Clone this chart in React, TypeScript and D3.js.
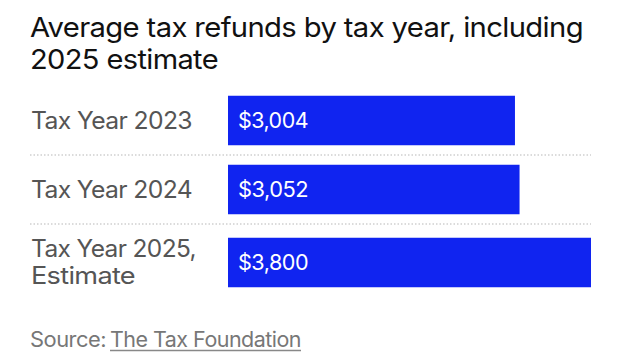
import React from "react";
import * as d3 from "d3";

const titleLines = ["Average tax refunds by tax year, including", "2025 estimate"];
const categories = ["Tax Year 2023", "Tax Year 2024", "Tax Year 2025, Estimate"];
const labelLines = [["Tax Year 2023"], ["Tax Year 2024"], ["Tax Year 2025,", "Estimate"]];
const values = [3004, 3052, 3800];
const sourcePrefix = "Source: ";
const sourceName = "The Tax Foundation";

const W = 620;
const H = 360;
const FONT = "Inter, 'Noto Sans', Roboto, sans-serif";

export default function App() {
  const x = d3.scaleLinear().domain([0, 3800]).range([228, 591]);
  const fmt = d3.format("$,.0f");

  const rowHeights = labelLines.map((l) => (l.length > 1 ? 77 : 69));
  const tops: number[] = [];
  let acc = 86;
  rowHeights.forEach((h) => {
    tops.push(acc);
    acc += h;
  });
  const barH = 49.5;

  const titleWidths = [553, 188];
  const labelWidths: Record<string, number> = {
    "Tax Year 2023": 161,
    "Tax Year 2024": 161,
    "Tax Year 2025,": 165,
    Estimate: 104,
  };

  return (
    <svg
      width={W}
      height={H}
      style={{ position: "absolute", left: 0, top: 0, background: "#fff" }}
      fontFamily={FONT}
    >
      {titleLines.map((t, i) => (
        <text
          key={t}
          x={30}
          y={37 + i * 32}
          fontSize={27.5}
          fill="#111"
          letterSpacing={-0.6}
          textLength={titleWidths[i]}
          lengthAdjust="spacingAndGlyphs"
        >
          {t}
        </text>
      ))}

      {categories.map((c, i) => {
        const top = tops[i];
        const h = rowHeights[i];
        const center = top + h / 2;
        const lines = labelLines[i];
        return (
          <g key={c}>
            {i > 0 && (
              <line
                x1={30}
                x2={591}
                y1={top}
                y2={top}
                stroke="#cfcfcf"
                strokeWidth={1.5}
                strokeDasharray="1.5,2"
              />
            )}
            <rect
              x={x(0)}
              y={center - barH / 2}
              width={x(values[i]) - x(0)}
              height={barH}
              fill="#1024f0"
            />
            {lines.map((l, j) => (
              <text
                key={l}
                x={31}
                y={center + 8 + (j - (lines.length - 1) / 2) * 27}
                fontSize={24}
                fill="#555"
                letterSpacing={-0.6}
                textLength={labelWidths[l]}
                lengthAdjust="spacingAndGlyphs"
              >
                {l}
              </text>
            ))}
            <text
              x={x(0) + 10}
              y={center + 7.5}
              fontSize={21}
              fill="#fff"
              letterSpacing={-0.5}
              textLength={70}
              lengthAdjust="spacingAndGlyphs"
            >
              {fmt(values[i])}
            </text>
          </g>
        );
      })}

      <text x={30} y={347} fontSize={21} fill="#777" letterSpacing={-0.5} textLength={76} lengthAdjust="spacingAndGlyphs">
        {sourcePrefix.trim()}
      </text>
      <text x={110} y={347} fontSize={21} fill="#777" letterSpacing={-0.5} textLength={191} lengthAdjust="spacingAndGlyphs">
        {sourceName}
      </text>
      <line x1={110} x2={301} y1={350.5} y2={350.5} stroke="#888" strokeWidth={1.5} />
    </svg>
  );
}
